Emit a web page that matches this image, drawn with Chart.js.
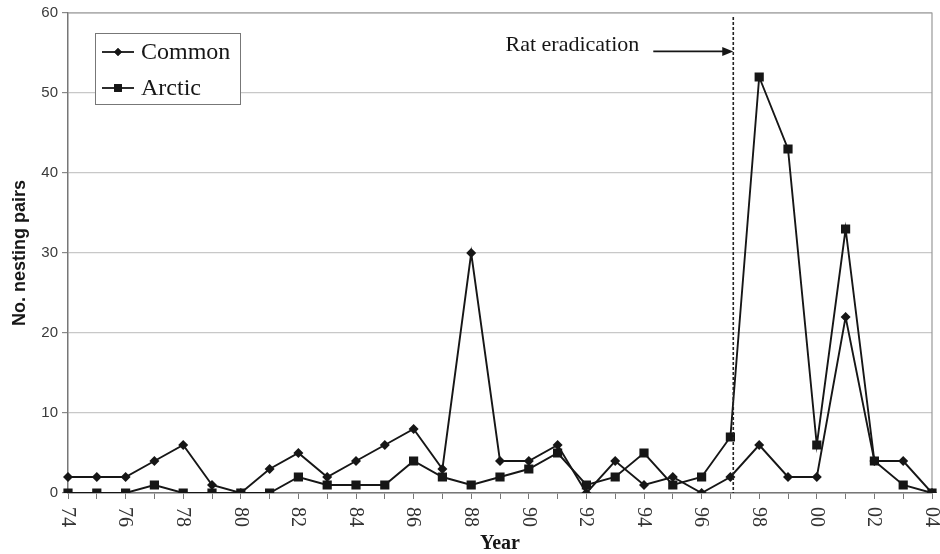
<!DOCTYPE html>
<html>
<head>
<meta charset="utf-8">
<script src="https://cdn.jsdelivr.net/npm/chart.js@4/dist/chart.umd.min.js"></script>
<style>
  body { margin: 0; background: #fff; }
  #wrap { width: 940px; height: 554px; }
</style>
</head>
<body>
<div id="wrap"><canvas id="terns"></canvas></div>
<script>
// Данные: годы и число гнездящихся пар
const years = ["74","75","76","77","78","79","80","81","82","83","84","85","86","87","88",
               "89","90","91","92","93","94","95","96","97","98","99","00","01","02","03","04"];
const common = [2,2,2,4,6,1,0,3,5,2,4,6,8,3,30,4,4,6,0,4,1,2,0,2,6,2,2,22,4,4,0];
const arctic = [0,0,0,1,0,0,0,0,2,1,1,1,4,2,1,2,3,5,1,2,5,1,2,7,52,43,6,33,4,1,0];
const yTicks = [0,10,20,30,40,50,60];
const eradication = { year: "97", offset: 0.1, label: "Rat eradication" };

const ink = "#161616";
const serif = "'Liberation Serif', 'Times New Roman', serif";
const sans = "'Liberation Sans', Arial, sans-serif";

// Рисуем пунктир, стрелку, подписи оси X и легенду
const decorations = {
    id: "decorations",
    afterDatasetsDraw(chart) {
        const ctx = chart.ctx;
        const x = chart.scales.x, y = chart.scales.y;
        const area = chart.chartArea;

        // вертикальная пунктирная линия
        const lx = x.getPixelForValue(years.indexOf(eradication.year) + eradication.offset);
        ctx.save();
        ctx.strokeStyle = "#222";
        ctx.lineWidth = 1.6;
        ctx.setLineDash([3, 2]);
        ctx.beginPath();
        ctx.moveTo(lx, area.top + 4);
        ctx.lineTo(lx, area.bottom);
        ctx.stroke();
        ctx.setLineDash([]);

        // стрелка и надпись
        const ay = y.getPixelForValue(55.2);
        ctx.strokeStyle = ink;
        ctx.lineWidth = 1.6;
        ctx.beginPath();
        ctx.moveTo(lx - 80, ay);
        ctx.lineTo(lx - 8, ay);
        ctx.stroke();
        ctx.fillStyle = ink;
        ctx.beginPath();
        ctx.moveTo(lx, ay);
        ctx.lineTo(lx - 11, ay - 4.5);
        ctx.lineTo(lx - 11, ay + 4.5);
        ctx.closePath();
        ctx.fill();
        ctx.font = "22px " + serif;
        ctx.textAlign = "right";
        ctx.textBaseline = "middle";
        ctx.fillText(eradication.label, lx - 94, ay - 6);
        ctx.restore();

        // легенда
        ctx.save();
        ctx.fillStyle = "#fff";
        ctx.fillRect(95, 33, 145, 71);
        ctx.strokeStyle = "#777";
        ctx.lineWidth = 1;
        ctx.strokeRect(95.5, 33.5, 145, 71);
        chart.data.datasets.forEach(function(ds, i) {
            const ry = 52 + i * 36;
            ctx.strokeStyle = ink;
            ctx.lineWidth = 1.8;
            ctx.beginPath();
            ctx.moveTo(102, ry);
            ctx.lineTo(134, ry);
            ctx.stroke();
            ctx.fillStyle = ink;
            Chart.helpers.drawPoint(ctx, {
                pointStyle: ds.pointStyle, radius: ds.pointRadius - 1, rotation: 0, borderWidth: 0
            }, 118, ry);
            ctx.fill();
            ctx.font = "24px " + serif;
            ctx.textAlign = "left";
            ctx.textBaseline = "middle";
            ctx.fillText(ds.label, 141, ry + 1);
        });
        ctx.restore();
    },
    afterDraw(chart) {
        const ctx = chart.ctx;
        const x = chart.scales.x;
        const area = chart.chartArea;
        ctx.save();
        ctx.fillStyle = "#333";
        ctx.font = "20px " + serif;
        ctx.textAlign = "left";
        ctx.textBaseline = "middle";
        years.forEach(function(yr, i) {
            if (i % 2 !== 0) return;
            ctx.save();
            ctx.translate(x.getPixelForValue(i) - 1, area.bottom + 14);
            ctx.rotate(Math.PI / 2);
            ctx.fillText(yr, 0, 0);
            ctx.restore();
        });
        ctx.fillStyle = ink;
        ctx.font = "bold 20px " + serif;
        ctx.textAlign = "center";
        ctx.fillText("Year", (area.left + area.right) / 2, 544);
        ctx.restore();
    }
};

new Chart(document.getElementById("terns"), {
    type: "line",
    data: {
        labels: years,
        datasets: [{
            label: "Common",
            data: common,
            borderColor: ink,
            backgroundColor: ink,
            borderWidth: 1.9,
            pointStyle: "rectRot",
            pointRadius: 5,
            pointBorderWidth: 0,
            tension: 0
        }, {
            label: "Arctic",
            data: arctic,
            borderColor: ink,
            backgroundColor: ink,
            borderWidth: 1.9,
            pointStyle: "rect",
            pointRadius: 6.5,
            pointBorderWidth: 0,
            tension: 0
        }]
    },
    options: {
        responsive: true,
        maintainAspectRatio: false,
        animation: false,
        layout: { padding: { top: 13, right: 8, left: 0, bottom: 0 } },
        plugins: {
            legend: { display: false },
            tooltip: { enabled: false }
        },
        scales: {
            x: {
                offset: false,
                afterFit: function(scale) { scale.height = 61; },
                grid: { drawOnChartArea: false, drawTicks: true, tickLength: 6, color: "#777" },
                border: { color: "#777", width: 1.5 },
                ticks: { display: false, autoSkip: false }
            },
            y: {
                min: 0,
                max: 60,
                afterBuildTicks: function(scale) { scale.ticks = yTicks.map(v => ({ value: v })); },
                afterFit: function(scale) { scale.width = 68; },
                grid: { color: "#c8c8c8", lineWidth: 1.2, tickLength: 6, tickColor: "#888" },
                border: { color: "#777", width: 1.5 },
                ticks: { color: "#3a3a3a", font: { family: sans, size: 15 }, padding: 4 },
                title: {
                    display: true,
                    text: "No. nesting pairs",
                    color: ink,
                    font: { family: sans, size: 18, weight: "bold" },
                    padding: { top: 9, bottom: 0 }
                }
            }
        }
    },
    plugins: [decorations, {
        id: "frame",
        beforeDatasetsDraw(chart) {
            const a = chart.chartArea, ctx = chart.ctx;
            ctx.save();
            ctx.strokeStyle = "#999";
            ctx.lineWidth = 1.2;
            ctx.beginPath();
            ctx.moveTo(a.left, a.top);
            ctx.lineTo(a.right, a.top);
            ctx.lineTo(a.right, a.bottom);
            ctx.stroke();
            ctx.restore();
        }
    }]
});
</script>
</body>
</html>
